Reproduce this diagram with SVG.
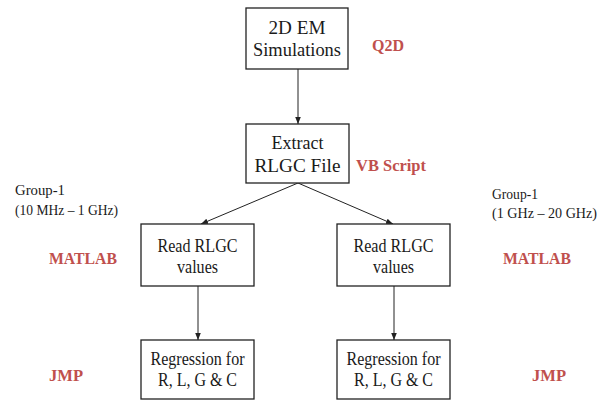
<svg xmlns="http://www.w3.org/2000/svg" width="606" height="403" viewBox="0 0 606 403">
<style>
.box{fill:#fff;stroke:#222;stroke-width:1.3}
.t{font-family:"Liberation Serif","Times New Roman",serif;fill:#1a1a1a;text-anchor:middle}
.t1{font-size:19.5px}
.t2{font-size:18px}
.side{font-family:"Liberation Serif","Times New Roman",serif;fill:#1a1a1a;font-size:15.5px}
.red{font-family:"Liberation Serif","Times New Roman",serif;fill:#c0504d;font-size:17px;font-weight:bold}
.con{stroke:#222;stroke-width:1;fill:none;marker-end:url(#arr)}
</style>
<defs>
<marker id="arr" viewBox="0 0 10 10" refX="10" refY="5" markerWidth="7" markerHeight="7" markerUnits="userSpaceOnUse" orient="auto">
<path d="M0,1 L10,5 L0,9 z" fill="#222"/>
</marker>
</defs>
<rect width="606" height="403" fill="#fff"/>
<g id="connectors">
<line class="con" x1="298" y1="69" x2="298" y2="124"/>
<line class="con" x1="298" y1="183" x2="201" y2="224"/>
<line class="con" x1="298" y1="183" x2="393" y2="224"/>
<line class="con" x1="198" y1="286" x2="198" y2="340"/>
<line class="con" x1="394" y1="286" x2="394" y2="340"/>
</g>
<g id="n_sim">
<rect class="box" x="246" y="8" width="102" height="61"/>
<text class="t t1" x="297" y="34" textLength="57" lengthAdjust="spacingAndGlyphs">2D EM</text>
<text class="t t1" x="297" y="56" textLength="88" lengthAdjust="spacingAndGlyphs">Simulations</text>
</g>
<g id="n_extract">
<rect class="box" x="246" y="124" width="103" height="59"/>
<text class="t t1" x="297.5" y="149" textLength="52" lengthAdjust="spacingAndGlyphs">Extract</text>
<text class="t t1" x="297.5" y="172" textLength="86" lengthAdjust="spacingAndGlyphs">RLGC File</text>
</g>
<g id="n_read1">
<rect class="box" x="141" y="224" width="113" height="62"/>
<text class="t t2" x="197.5" y="252" textLength="80" lengthAdjust="spacingAndGlyphs">Read RLGC</text>
<text class="t t2" x="197.5" y="273" textLength="41" lengthAdjust="spacingAndGlyphs">values</text>
</g>
<g id="n_read2">
<rect class="box" x="337" y="224" width="113" height="62"/>
<text class="t t2" x="393.5" y="252" textLength="80" lengthAdjust="spacingAndGlyphs">Read RLGC</text>
<text class="t t2" x="393.5" y="273" textLength="41" lengthAdjust="spacingAndGlyphs">values</text>
</g>
<g id="n_reg1">
<rect class="box" x="141" y="340" width="113" height="59"/>
<text class="t t2" x="197.5" y="365" textLength="94" lengthAdjust="spacingAndGlyphs">Regression for</text>
<text class="t t2" x="197.5" y="386" textLength="79" lengthAdjust="spacingAndGlyphs">R, L, G &amp; C</text>
</g>
<g id="n_reg2">
<rect class="box" x="337" y="340" width="113" height="59"/>
<text class="t t2" x="393.5" y="365" textLength="94" lengthAdjust="spacingAndGlyphs">Regression for</text>
<text class="t t2" x="393.5" y="386" textLength="79" lengthAdjust="spacingAndGlyphs">R, L, G &amp; C</text>
</g>
<g id="labels">
<text class="red" x="372" y="51" textLength="32" lengthAdjust="spacingAndGlyphs">Q2D</text>
<text class="red" x="356" y="171" textLength="70" lengthAdjust="spacingAndGlyphs">VB Script</text>
<text class="red" x="49" y="264" textLength="68" lengthAdjust="spacingAndGlyphs">MATLAB</text>
<text class="red" x="503" y="264" textLength="68" lengthAdjust="spacingAndGlyphs">MATLAB</text>
<text class="red" x="49" y="381" textLength="34" lengthAdjust="spacingAndGlyphs">JMP</text>
<text class="red" x="532" y="381" textLength="34" lengthAdjust="spacingAndGlyphs">JMP</text>
<text class="side" x="15" y="195" textLength="50" lengthAdjust="spacingAndGlyphs">Group-1</text>
<text class="side" x="15" y="215" textLength="103" lengthAdjust="spacingAndGlyphs">(10 MHz – 1 GHz)</text>
<text class="side" x="492" y="199" textLength="46" lengthAdjust="spacingAndGlyphs">Group-1</text>
<text class="side" x="492" y="218" textLength="105" lengthAdjust="spacingAndGlyphs">(1 GHz – 20 GHz)</text>
</g>
</svg>
